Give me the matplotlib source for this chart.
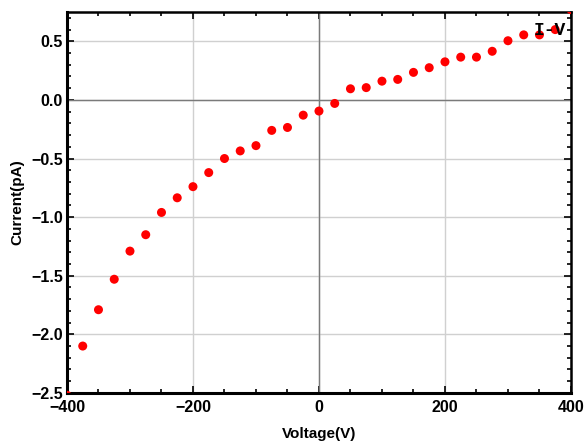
import matplotlib
matplotlib.use('Agg')
import matplotlib.pyplot as plt
from matplotlib.ticker import MultipleLocator

# measured I-V points
voltage = [-400, -375, -350, -325, -300, -275, -250, -225, -200, -175, -150,
           -125, -100, -75, -50, -25, 0, 25, 50, 75, 100, 125, 150, 175,
           200, 225, 250, 275, 300, 325, 350, 375, 400]
current = [-2.52, -2.10, -1.79, -1.53, -1.29, -1.15, -0.96, -0.835, -0.74,
           -0.62, -0.50, -0.435, -0.39, -0.26, -0.235, -0.13, -0.095, -0.03,
           0.095, 0.105, 0.16, 0.175, 0.235, 0.275, 0.325, 0.365, 0.365,
           0.415, 0.505, 0.555, 0.555, 0.60, 0.77]

plt.rcParams['font.family'] = ['Liberation Sans', 'DejaVu Sans']

fig = plt.figure(figsize=(5.85, 4.45), dpi=100)
ax = fig.add_axes([0.1145, 0.117, 0.8615, 0.856])

ax.set_xlim(-400, 400)
ax.set_ylim(-2.5, 0.75)

ax.grid(True, which='major', color='#d0d0d0', linewidth=1)
ax.axhline(0, color='#7a7a7a', linewidth=1)
ax.axvline(0, color='#7a7a7a', linewidth=1)

ax.scatter(voltage, current, s=42, color='red', zorder=3, clip_on=True,
           edgecolors='none')

ax.xaxis.set_major_locator(MultipleLocator(200))
ax.xaxis.set_minor_locator(MultipleLocator(50))
ax.yaxis.set_major_locator(MultipleLocator(0.5))
ax.yaxis.set_minor_locator(MultipleLocator(0.1))

ax.tick_params(which='both', direction='in', top=True, right=True,
               labelsize=11.5)
ax.tick_params(axis='x', pad=5)
ax.tick_params(axis='y', pad=3)
ax.tick_params(which='major', length=5, width=1.2)
ax.tick_params(which='minor', length=3, width=1.2)
for lab in ax.get_xticklabels() + ax.get_yticklabels():
    lab.set_fontweight('bold')

ax.yaxis.set_major_formatter(plt.FuncFormatter(lambda v, p: f'{v:.1f}'.replace('-', '\u2212')))

for side in ['left', 'bottom']:
    ax.spines[side].set_linewidth(2.2)
for side in ['top', 'right']:
    ax.spines[side].set_linewidth(1.8)

ax.set_xlabel('Voltage(V)', fontsize=11, fontweight='bold', labelpad=9)
ax.set_ylabel('Current(pA)', fontsize=11, fontweight='bold', labelpad=5)

ax.text(0.99, 0.975, 'I-V', transform=ax.transAxes, ha='right', va='top',
        fontsize=13, fontweight='bold', family='Liberation Mono', zorder=5)

fig.savefig('out.png', dpi=100)
